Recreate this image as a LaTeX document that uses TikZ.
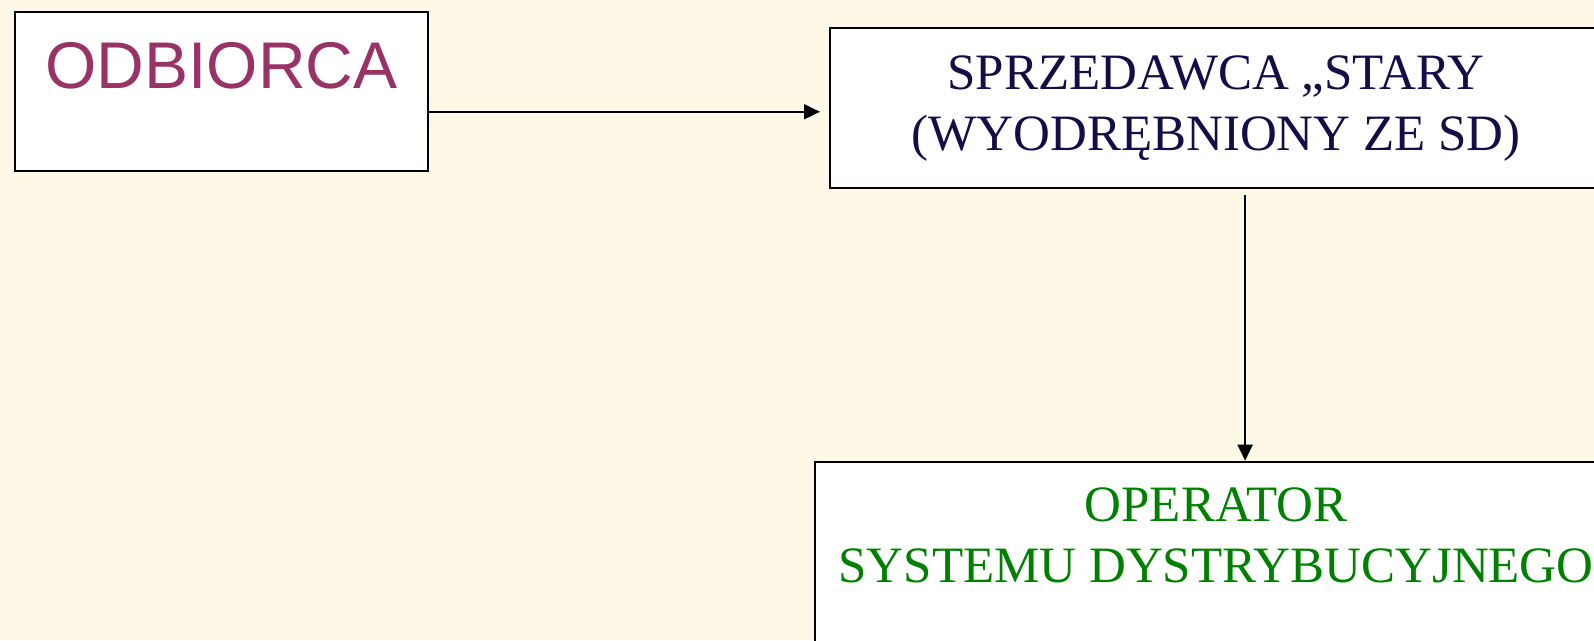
\documentclass[tikz,border=0pt]{standalone}
\usepackage{fontspec}
\setmainfont{Liberation Serif}
\setsansfont{Liberation Sans}
\usepackage{tikz}
\usetikzlibrary{arrows.meta}
\definecolor{tlo}{RGB}{253,249,230}
\definecolor{odbkolor}{HTML}{993366}
\definecolor{sprkolor}{HTML}{140E48}
\definecolor{oprkolor}{HTML}{008000}

\begin{document}
\begin{tikzpicture}[x=1pt,y=1pt,
    box/.style={draw=black,line width=2.2pt,fill=white,inner sep=0pt,align=center,anchor=north west},
    strz/.style={-{Triangle[length=16pt,width=15pt]},line width=2pt}]
%\tikzstyle{box}=[draw,fill=white]
\clip (0,0) rectangle (1594,640);
\fill [tlo] (0,0) rectangle (1594,640);
\begin{scope}
    \node [box,minimum width=413pt,text height=76pt,text depth=83pt,text=odbkolor,
        font=\sffamily\fontsize{66}{79}\selectfont] (odb) at (14,629) {ODBIORCA};
    \node [box,minimum width=772pt,text height=122pt,text depth=38pt,text=sprkolor,
        font=\fontsize{51}{61}\selectfont] (spr) at (829,613) {SPRZEDAWCA „STARY\\(WYODRĘBNIONY ZE SD)};
    \node [box,minimum width=802pt,text height=120.3pt,text depth=200pt,text=oprkolor,
        font=\fontsize{51}{61}\selectfont] (opr) at (814,179.3) {OPERATOR\\SYSTEMU DYSTRYBUCYJNEGO};

    \coordinate (p) at ([yshift=-20.2pt]odb.east);
    \coordinate (q) at ([xshift=29pt]spr.south);

    \path [strz,shorten >=9pt] (p) edge (p -| spr.west);
    \path [strz,shorten <=6pt] (q) edge (q |- opr.north);
\end{scope}
\end{tikzpicture}
\end{document}
